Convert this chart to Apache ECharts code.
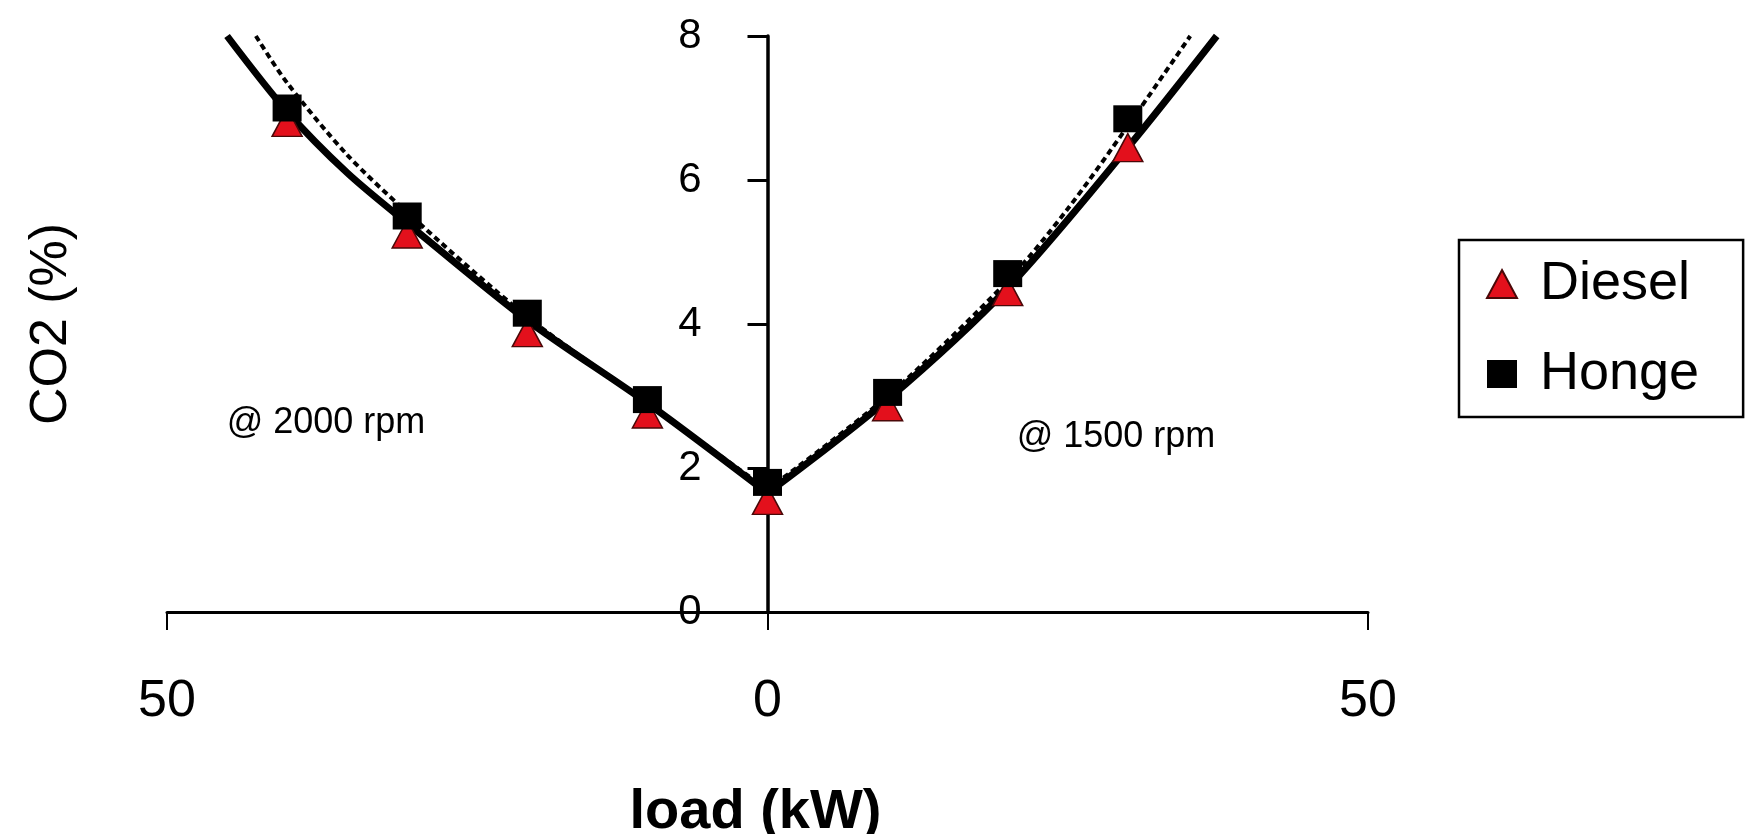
<!DOCTYPE html>
<html><head><meta charset="utf-8">
<script src="https://cdn.jsdelivr.net/npm/echarts@6/dist/echarts.min.js"></script>
<style>html,body{margin:0;padding:0;background:#fff}#c{width:1747px;height:834px}</style>
</head><body><div id="c"></div>
<script>
// ---- data ----
const xTicks = [-50, 0, 50];
const xTickLabels = ['50', '0', '50'];
const yTicks = [0, 2, 4, 6, 8];
const yTickLabels = ['0', '2', '4', '6', '8'];
const seriesNames = ['Diesel', 'Honge'];
const xTitle = 'load (kW)';
const yTitle = 'CO2 (%)';
const annotations = ['@ 2000 rpm', '@ 1500 rpm'];

// 2000 rpm branch (drawn to the left of the axis), 1500 rpm branch (right)
const loads2000 = [-40, -30, -20, -10, 0];
const diesel2000 = [6.8, 5.25, 3.88, 2.75, 1.55];
const honge2000 = [7.0, 5.5, 4.15, 2.95, 1.8];
const loads1500 = [10, 20, 30];
const diesel1500 = [2.85, 4.45, 6.45];
const honge1500 = [3.05, 4.7, 6.85];

// trend curves (solid and dotted)
const solidLeftX = [-45, -40, -35, -30, -20, -10, 0];
const solidLeftY = [8.0, 6.95, 6.1, 5.4, 4.05, 2.9, 1.65];
const solidRightX = [0, 10, 20, 30, 37.4];
const solidRightY = [1.65, 2.95, 4.5, 6.45, 8.0];
const dotLeftX = [-42.6, -40, -35, -30, -20, -10, 0];
const dotLeftY = [8.0, 7.35, 6.35, 5.55, 4.1, 2.9, 1.7];
const dotRightX = [0, 10, 20, 25, 30, 35.2];
const dotRightY = [1.7, 3.0, 4.6, 5.6, 6.75, 8.0];

// ---- chart ----
const zip = (xs, ys) => xs.map((x, i) => [x, ys[i]]);
const FONT = '"Liberation Sans", Arial, sans-serif';
const GRID_LEFT = 167, GRID_RIGHT = 379, W = 1747;
const plotW = W - GRID_LEFT - GRID_RIGHT;
const chart = echarts.init(document.getElementById('c'), null, {renderer: 'canvas'});

function trend(name, xs, ys, dotted) {
  return {
    name: name, type: 'line', data: zip(xs, ys), symbol: 'none', smooth: 0.3,
    silent: true, z: dotted ? 3 : 2, animation: false,
    lineStyle: dotted ? {color: '#000', width: 4, type: [6, 4]} : {color: '#000', width: 7}
  };
}

chart.setOption({
  animation: false,
  backgroundColor: '#fff',
  grid: {left: GRID_LEFT, right: GRID_RIGHT, top: 36, bottom: 222, containLabel: false, outerBoundsMode: 'none'},
  xAxis: {
    type: 'value', min: -50, max: 50, interval: 50,
    name: xTitle, nameLocation: 'middle', nameGap: 173,
    nameTextStyle: {fontFamily: FONT, fontSize: 56, fontWeight: 'bold', color: '#000', padding: [0, 24, 0, 0]},
    axisLine: {show: true, onZero: true, lineStyle: {color: '#000', width: 3}},
    axisTick: {show: true, inside: false, length: 18, lineStyle: {color: '#000', width: 2}},
    axisLabel: {margin: 64, fontFamily: FONT, fontSize: 52, color: '#000',
      formatter: v => xTickLabels[xTicks.indexOf(v)] ?? ''},
    splitLine: {show: false}
  },
  yAxis: {
    type: 'value', min: 0, max: 8, interval: 2, position: 'left',
    offset: -plotW / 2,   // place the value axis at load = 0
    name: yTitle, nameLocation: 'middle', nameGap: 690, nameRotate: 90,
    nameTextStyle: {fontFamily: FONT, fontSize: 52, color: '#000'},
    axisLine: {show: true, onZero: false, lineStyle: {color: '#000', width: 3.5}},
    axisTick: {show: true, inside: false, length: 20, lineStyle: {color: '#000', width: 3}},
    axisLabel: {margin: 66, fontFamily: FONT, fontSize: 42, color: '#000',
      formatter: v => yTickLabels[yTicks.indexOf(v)] ?? ''},
    splitLine: {show: false}
  },
  legend: {
    data: seriesNames, orient: 'vertical', left: 1459, top: 240,
    borderColor: '#000', borderWidth: 2.5, borderRadius: 0, backgroundColor: '#fff',
    padding: [17, 44, 16, 27], itemGap: 36, itemWidth: 30, itemHeight: 28,
    textStyle: {fontFamily: FONT, fontSize: 54, color: '#000', padding: [0, 0, 0, 18]}
  },
  graphic: [
    {type: 'text', x: 326, y: 423, style: {text: annotations[0], align: 'center', verticalAlign: 'middle',
      font: '36px "Liberation Sans", Arial, sans-serif', fill: '#000'}},
    {type: 'text', x: 1116, y: 437, style: {text: annotations[1], align: 'center', verticalAlign: 'middle',
      font: '36px "Liberation Sans", Arial, sans-serif', fill: '#000'}}
  ],
  series: [
    trend('Diesel trend 2000', solidLeftX, solidLeftY, false),
    trend('Diesel trend 1500', solidRightX, solidRightY, false),
    trend('Honge trend 2000', dotLeftX, dotLeftY, true),
    trend('Honge trend 1500', dotRightX, dotRightY, true),
    {
      name: seriesNames[0], type: 'scatter', symbol: 'triangle', symbolSize: [30, 28], z: 4,
      itemStyle: {color: '#e3101c', borderColor: '#4a0808', borderWidth: 1.5, opacity: 1},
      data: zip(loads2000, diesel2000).concat(zip(loads1500, diesel1500))
    },
    {
      name: seriesNames[1], type: 'scatter', symbol: 'rect', symbolSize: [29, 27], z: 5,
      itemStyle: {color: '#000', opacity: 1},
      data: zip(loads2000, honge2000).concat(zip(loads1500, honge1500))
    }
  ]
});
</script></body></html>
